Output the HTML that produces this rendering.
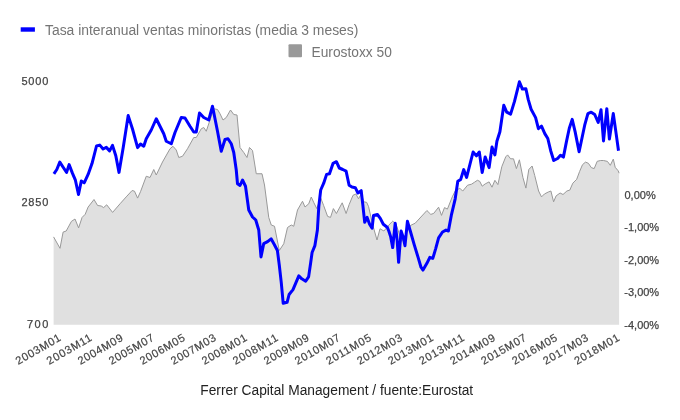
<!DOCTYPE html>
<html><head><meta charset="utf-8"><style>
html,body{margin:0;padding:0;background:#fff;}
svg{display:block;will-change:transform;}
text{font-family:"Liberation Sans",sans-serif;}
</style></head><body>
<svg width="680" height="420" viewBox="0 0 680 420">
<rect width="680" height="420" fill="#fff"/>
<rect x="20.7" y="27.3" width="14.2" height="4.4" fill="#0000ff"/>
<text x="45" y="35" font-size="14" fill="#757575" textLength="313.4" lengthAdjust="spacingAndGlyphs">Tasa interanual ventas minoristas (media 3 meses)</text>
<rect x="288.5" y="44.3" width="13.5" height="13" rx="1" fill="#999999"/>
<text x="311.5" y="56.5" font-size="14" fill="#757575" textLength="80.4" lengthAdjust="spacingAndGlyphs">Eurostoxx 50</text>
<path d="M53.6,324.8 L53.6,236.9 L60,248.3 L63.1,232.1 L66.2,231 L71.4,221.4 L75,219 L78.6,227.9 L82.1,217.4 L85.2,214.3 L88.1,207.1 L94,199.5 L97.6,205.5 L101.2,206 L103.6,207.6 L106.7,204.8 L112.6,212.4 L120.2,203.6 L126.2,196.9 L132.1,190.5 L134.5,191.2 L137.6,198.1 L140.5,191.7 L146.25,176.25 L150,177.5 L153.75,169.5 L156.25,175 L162.5,162 L170,148.75 L173,146.25 L176.25,150 L178.75,157.5 L182.5,156.25 L187.5,148.75 L193.75,137.5 L196.25,137.5 L201.25,128.75 L203.75,127.5 L206.25,131.25 L210,120 L213.75,108.75 L217.5,109.5 L220,113.75 L223,120 L226.25,117.5 L230.5,110 L233.75,114.5 L237,115 L240,147.5 L243.75,152.5 L247,157.5 L249.5,147.5 L252.5,150.5 L256.25,173.75 L262,173.75 L264.5,185 L268.75,217.5 L271.25,225 L274.5,226.25 L279.3,250.5 L283.75,243.75 L287.5,227.5 L291.25,225 L293.75,226.25 L297.5,210 L302.5,201.25 L305,207 L308.75,203.75 L311.25,197 L313.9,202.8 L316.8,208.6 L320.7,197.9 L323.7,205.7 L327.6,216.4 L330.5,217.4 L333.4,208.6 L336.4,213.5 L342.2,202.8 L346.1,213.5 L349.1,204.7 L353,195.3 L355.9,194 L358.5,198.8 L361.2,194 L363.7,201.8 L366.7,202.4 L368.6,206.7 L372.5,224.2 L377,240 L380,228.75 L383.9,231 L388.8,225.2 L392.1,221.7 L392.7,221.2 L396,224 L401.7,241.4 L410.6,225.4 L415.2,223.2 L426.9,210.5 L430.8,214.4 L433.7,213.4 L438.6,207.2 L441.5,215.4 L444.5,207.6 L447.4,209.1 L452.3,196.8 L455.2,191 L459.8,188.2 L462.7,191.1 L467.6,185.2 L471.5,184.2 L474.4,182.3 L477.4,180.3 L479.7,181.3 L482.2,186.2 L485.2,183.9 L489.1,181.9 L492,187.2 L494.9,180.3 L497.9,184.6 L501.8,166.7 L505.7,156.9 L507.6,154.9 L510.6,158.8 L513.5,158.8 L516.4,168.6 L519.4,159.8 L522.9,177.4 L525.9,188.1 L528.8,169.5 L532.1,166 L534.7,175.4 L538.6,191 L541.5,196.9 L544.4,194 L548.3,192 L550.9,191 L553.6,201.8 L556.1,195.9 L560.1,193 L563,194.5 L566.9,191 L569.8,190.1 L572.8,183.2 L576.7,179.3 L579.6,171.5 L582.5,164.7 L585.5,162.1 L588.4,163.3 L591.3,167.6 L594.2,168.6 L597.2,161.3 L600.6,160.5 L603.5,160.5 L607.4,161.4 L610.3,165.3 L613.3,159.1 L615.2,167.3 L618.2,170.8 L619.1,173.2 L619.1,324.8 Z" fill="#e0e0e0" stroke="none"/>
<polyline points="53.6,236.9 60,248.3 63.1,232.1 66.2,231 71.4,221.4 75,219 78.6,227.9 82.1,217.4 85.2,214.3 88.1,207.1 94,199.5 97.6,205.5 101.2,206 103.6,207.6 106.7,204.8 112.6,212.4 120.2,203.6 126.2,196.9 132.1,190.5 134.5,191.2 137.6,198.1 140.5,191.7 146.25,176.25 150,177.5 153.75,169.5 156.25,175 162.5,162 170,148.75 173,146.25 176.25,150 178.75,157.5 182.5,156.25 187.5,148.75 193.75,137.5 196.25,137.5 201.25,128.75 203.75,127.5 206.25,131.25 210,120 213.75,108.75 217.5,109.5 220,113.75 223,120 226.25,117.5 230.5,110 233.75,114.5 237,115 240,147.5 243.75,152.5 247,157.5 249.5,147.5 252.5,150.5 256.25,173.75 262,173.75 264.5,185 268.75,217.5 271.25,225 274.5,226.25 279.3,250.5 283.75,243.75 287.5,227.5 291.25,225 293.75,226.25 297.5,210 302.5,201.25 305,207 308.75,203.75 311.25,197 313.9,202.8 316.8,208.6 320.7,197.9 323.7,205.7 327.6,216.4 330.5,217.4 333.4,208.6 336.4,213.5 342.2,202.8 346.1,213.5 349.1,204.7 353,195.3 355.9,194 358.5,198.8 361.2,194 363.7,201.8 366.7,202.4 368.6,206.7 372.5,224.2 377,240 380,228.75 383.9,231 388.8,225.2 392.1,221.7 392.7,221.2 396,224 401.7,241.4 410.6,225.4 415.2,223.2 426.9,210.5 430.8,214.4 433.7,213.4 438.6,207.2 441.5,215.4 444.5,207.6 447.4,209.1 452.3,196.8 455.2,191 459.8,188.2 462.7,191.1 467.6,185.2 471.5,184.2 474.4,182.3 477.4,180.3 479.7,181.3 482.2,186.2 485.2,183.9 489.1,181.9 492,187.2 494.9,180.3 497.9,184.6 501.8,166.7 505.7,156.9 507.6,154.9 510.6,158.8 513.5,158.8 516.4,168.6 519.4,159.8 522.9,177.4 525.9,188.1 528.8,169.5 532.1,166 534.7,175.4 538.6,191 541.5,196.9 544.4,194 548.3,192 550.9,191 553.6,201.8 556.1,195.9 560.1,193 563,194.5 566.9,191 569.8,190.1 572.8,183.2 576.7,179.3 579.6,171.5 582.5,164.7 585.5,162.1 588.4,163.3 591.3,167.6 594.2,168.6 597.2,161.3 600.6,160.5 603.5,160.5 607.4,161.4 610.3,165.3 613.3,159.1 615.2,167.3 618.2,170.8 619.1,173.2" fill="none" stroke="#999999" stroke-width="1"/>
<polyline points="53.9,173.8 56.8,169.5 59.8,162.1 63.3,167.5 66.6,172.4 69.1,164.6 72.5,173.4 75.4,180.2 78.5,194.5 81.3,181 84.2,182.8 88.1,174.4 92,163.6 96.5,146 99.8,145.1 103.1,149 106.3,147.4 109.6,150.9 112.5,145.4 115.8,155.8 119,172.4 123.3,147 128.2,115.6 132.5,129 137.6,147.6 140.5,144 143.75,146.25 146.25,138.75 151.25,130 156.25,118.75 161.25,128.75 163.75,133.75 166.25,141.25 171.25,143.75 175,132.5 181.25,117.5 185,118 190,126.25 193.75,132 196.25,132 199.5,113 203.75,117.5 208.75,120 212.5,106.25 215,118.75 217.5,131.25 221.25,151.25 225,139.5 228,138.75 231.25,143.75 233.75,152.5 236.25,170 237.5,183.75 240,185.5 242.5,180 245.5,186.25 248.75,210 252.5,217 255.75,220 258.75,230 261,257 263.7,243.7 267.6,241.7 271.1,238.8 274.4,244.7 277.4,250.5 279.3,265.2 281.3,282.8 283.2,303.3 287.1,302.3 289.1,294.5 293,289.6 298.8,275.9 301.8,278.8 305.7,281.2 308.6,276.9 310.6,263.2 312.1,252.5 314.9,245.6 317.4,230 318.8,206.7 320.7,190 323.7,183.2 326.6,174.4 329.5,173.8 333.1,163.3 336.4,161.7 339.3,168 342.8,169.5 346.1,171.1 349.1,185.2 352,187.1 355.3,187.7 357.9,193 361.2,190.6 362.8,204.7 364.7,222.3 367.1,217.4 369.6,224.2 372.1,228.2 373.5,215.5 377.4,214.5 380.3,218.4 383.3,224.2 387.2,227.2 388.8,231 390.7,236.9 392.7,247.6 395.2,223.2 397.2,240.8 398.6,262.3 401.1,231 403.1,236.9 405,245.7 407.4,221.3 410.3,231 414.2,244.7 418.1,257.4 421,267.2 423,270.1 426.9,263.3 429.8,257.4 432.8,258.4 435.7,248.6 438.6,237.9 442.5,232 446,230.1 448.4,231 451.3,215.4 455.2,198.8 457.8,181.3 460.7,179.4 463.7,169.6 466.6,177.4 473.1,152 476.4,155.9 479.3,152 482.2,172.5 485.2,156.9 489.1,167.6 492,147.1 494.9,154.9 496.9,141.3 499.9,131.7 503.8,105.3 506.7,112.1 510.6,114.1 514.5,101.4 519.4,81.8 522.4,89.1 525.9,88.7 528.2,99.4 531.1,109.2 535.6,117.6 538.4,128.7 541.5,126.2 544.8,133.6 547.8,138.5 550.7,150.7 553.7,160.5 557.6,158.5 560.5,155.2 563.4,157.1 566.4,141.9 569.3,128.2 572.2,119.4 575.2,132.1 579.1,151.7 582,138 584.9,124.3 587.9,113.6 591.2,112.2 594.7,114.5 598.2,122.4 601,109.7 603.5,140.9 606.8,108.7 609.4,139 613.3,113.6 616.2,134.1 618.5,150.7" fill="none" stroke="#0000ff" stroke-width="3" stroke-linejoin="round"/>
<g font-size="11" fill="#444444" stroke="#444444" stroke-width="0.25" text-anchor="end">
<text x="48.4" y="84.8" textLength="27">5000</text>
<text x="48.4" y="206.2" textLength="27">2850</text>
<text x="48.4" y="328.2" textLength="21.5">700</text>
</g>
<g font-size="11" fill="#444444" stroke="#444444" stroke-width="0.25">
<text x="624.5" y="199.3">0,00%</text>
<text x="624.3" y="230.8">-1,00%</text>
<text x="624.3" y="264.2">-2,00%</text>
<text x="624.3" y="296.2">-3,00%</text>
<text x="624.3" y="328.7">-4,00%</text>
</g>
<g font-size="11" fill="#444444" stroke="#444444" stroke-width="0.2">
<text x="61.65" y="340.0" transform="rotate(-30 61.65 340.0)" text-anchor="end" textLength="50" lengthAdjust="spacing">2003M01</text>
<text x="92.68" y="340.0" transform="rotate(-30 92.68 340.0)" text-anchor="end" textLength="50" lengthAdjust="spacing">2003M11</text>
<text x="123.71" y="340.0" transform="rotate(-30 123.71 340.0)" text-anchor="end" textLength="50" lengthAdjust="spacing">2004M09</text>
<text x="154.74" y="340.0" transform="rotate(-30 154.74 340.0)" text-anchor="end" textLength="50" lengthAdjust="spacing">2005M07</text>
<text x="185.77" y="340.0" transform="rotate(-30 185.77 340.0)" text-anchor="end" textLength="50" lengthAdjust="spacing">2006M05</text>
<text x="216.80" y="340.0" transform="rotate(-30 216.80 340.0)" text-anchor="end" textLength="50" lengthAdjust="spacing">2007M03</text>
<text x="247.83" y="340.0" transform="rotate(-30 247.83 340.0)" text-anchor="end" textLength="50" lengthAdjust="spacing">2008M01</text>
<text x="278.86" y="340.0" transform="rotate(-30 278.86 340.0)" text-anchor="end" textLength="50" lengthAdjust="spacing">2008M11</text>
<text x="309.89" y="340.0" transform="rotate(-30 309.89 340.0)" text-anchor="end" textLength="50" lengthAdjust="spacing">2009M09</text>
<text x="340.92" y="340.0" transform="rotate(-30 340.92 340.0)" text-anchor="end" textLength="50" lengthAdjust="spacing">2010M07</text>
<text x="371.95" y="340.0" transform="rotate(-30 371.95 340.0)" text-anchor="end" textLength="50" lengthAdjust="spacing">2011M05</text>
<text x="402.98" y="340.0" transform="rotate(-30 402.98 340.0)" text-anchor="end" textLength="50" lengthAdjust="spacing">2012M03</text>
<text x="434.01" y="340.0" transform="rotate(-30 434.01 340.0)" text-anchor="end" textLength="50" lengthAdjust="spacing">2013M01</text>
<text x="465.04" y="340.0" transform="rotate(-30 465.04 340.0)" text-anchor="end" textLength="50" lengthAdjust="spacing">2013M11</text>
<text x="496.07" y="340.0" transform="rotate(-30 496.07 340.0)" text-anchor="end" textLength="50" lengthAdjust="spacing">2014M09</text>
<text x="527.10" y="340.0" transform="rotate(-30 527.10 340.0)" text-anchor="end" textLength="50" lengthAdjust="spacing">2015M07</text>
<text x="558.13" y="340.0" transform="rotate(-30 558.13 340.0)" text-anchor="end" textLength="50" lengthAdjust="spacing">2016M05</text>
<text x="589.16" y="340.0" transform="rotate(-30 589.16 340.0)" text-anchor="end" textLength="50" lengthAdjust="spacing">2017M03</text>
<text x="620.19" y="340.0" transform="rotate(-30 620.19 340.0)" text-anchor="end" textLength="50" lengthAdjust="spacing">2018M01</text>
</g>
<text x="200.3" y="395" font-size="14" fill="#222222" textLength="272.9" lengthAdjust="spacingAndGlyphs">Ferrer Capital Management / fuente:Eurostat</text>
</svg>
</body></html>
